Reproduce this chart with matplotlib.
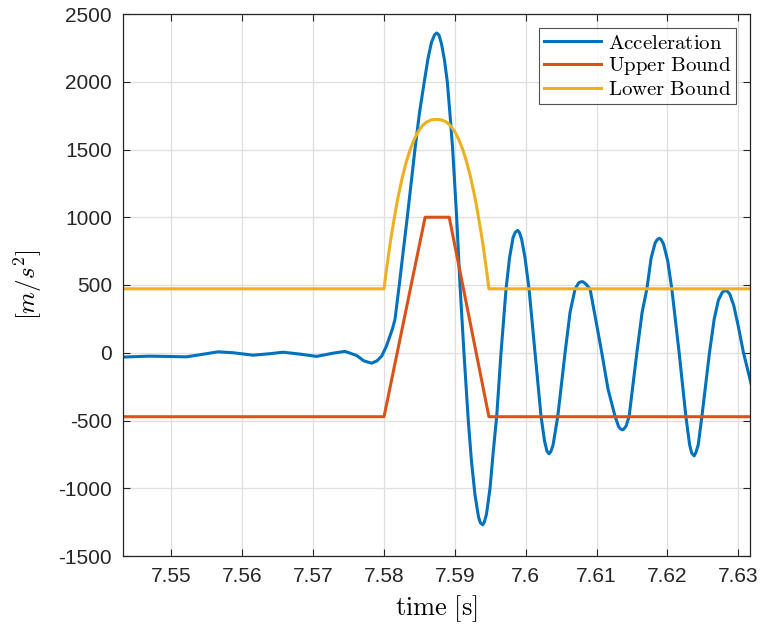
import numpy as np
import matplotlib
matplotlib.use("Agg")
import matplotlib.pyplot as plt

plt.rcParams['mathtext.fontset'] = 'cm'
plt.rcParams['axes.unicode_minus'] = False

# Acceleration signal (time [s], value [m/s^2])
acc_t = [7.5430, 7.54694, 7.55212, 7.55400, 7.55658, 7.55870, 7.56153, 7.56388,
         7.56576, 7.56812, 7.57048, 7.57282, 7.57448, 7.57613, 7.57716, 7.57825,
         7.57900, 7.57966, 7.58027, 7.58083, 7.58118, 7.58154, 7.58215, 7.58271,
         7.58328, 7.58380, 7.58436, 7.58500, 7.58568, 7.58620, 7.58669, 7.58712,
         7.58743, 7.58775, 7.58811, 7.58853, 7.58893, 7.58931, 7.58969, 7.59025,
         7.59072, 7.59128, 7.59189, 7.59234, 7.59284, 7.59333, 7.59359, 7.59393,
         7.59415, 7.59446, 7.59496, 7.59538, 7.59590, 7.59651, 7.59722, 7.59771,
         7.59821, 7.59853, 7.59886, 7.59910, 7.59941, 7.59990, 7.60047, 7.60131,
         7.60216, 7.60265, 7.60298, 7.60329, 7.60355, 7.60386, 7.60452, 7.60555,
         7.60626, 7.60696, 7.60746, 7.60771, 7.60799, 7.60821, 7.60852, 7.60908,
         7.60993, 7.61073, 7.61162, 7.61261, 7.61311, 7.61336, 7.61364, 7.61386,
         7.61417, 7.61459, 7.61568, 7.61643, 7.61709, 7.61770, 7.61826, 7.61852,
         7.61887, 7.61915, 7.61946, 7.62003, 7.62062, 7.62165, 7.62260, 7.62313,
         7.62342, 7.62377, 7.62402, 7.62434, 7.62486, 7.62593, 7.62660, 7.62720,
         7.62773, 7.62798, 7.62825, 7.62847, 7.62878, 7.62935, 7.62998, 7.63073,
         7.63196]
acc_v = [-32, -25, -30, -15, 7, 0, -18, -7,
         4, -10, -27, -3, 10, -20, -60, -77,
         -60, -25, 40, 122, 175, 245, 500, 750,
         1000, 1240, 1500, 1770, 2000, 2170, 2290, 2345,
         2360, 2345, 2280, 2160, 2000, 1760, 1500, 1000,
         500, 0, -500, -800, -1050, -1210, -1255, -1270,
         -1250, -1190, -1000, -750, -470, 0, 470, 700,
         850, 890, 903, 888, 840, 700, 470, 0,
         -470, -650, -725, -746, -728, -680, -470, 0,
         300, 470, 515, 522, 525, 519, 505, 470,
         230, 0, -270, -470, -545, -562, -569, -562,
         -540, -470, 0, 300, 470, 700, 810, 833,
         845, 832, 800, 680, 470, 0, -470, -680,
         -740, -761, -735, -680, -470, 0, 250, 390,
         445, 455, 459, 452, 435, 350, 200, 0,
         -261]

# Upper bound (trapezoid)
up_t = [7.5430, 7.5800, 7.5858, 7.5892, 7.5948, 7.6320]
up_v = [-472, -472, 1000, 1000, -472, -472]

# Lower bound (arch)
lo_t = [7.5430, 7.58000, 7.58028, 7.58057, 7.58085, 7.58114, 7.58157, 7.58199,
        7.58256, 7.58313, 7.58370, 7.58427, 7.58484, 7.58541, 7.58598, 7.58655,
        7.58697, 7.58740, 7.58783, 7.58825, 7.58882, 7.58939, 7.58996, 7.59053,
        7.59110, 7.59167, 7.59224, 7.59281, 7.59323, 7.59366, 7.59395, 7.59423,
        7.59452, 7.59480, 7.6320]
lo_v = [472, 472, 589, 699, 802, 899, 1032, 1151,
        1290, 1406, 1501, 1576, 1634, 1675, 1702, 1716,
        1721, 1722, 1721, 1716, 1702, 1675, 1634, 1576,
        1501, 1406, 1290, 1151, 1032, 899, 802, 699,
        589, 472, 472]

xticks = [7.55, 7.56, 7.57, 7.58, 7.59, 7.60, 7.61, 7.62, 7.63]
xticklabels = ['7.55', '7.56', '7.57', '7.58', '7.59', '7.6', '7.61', '7.62', '7.63']
yticks = [-1500, -1000, -500, 0, 500, 1000, 1500, 2000, 2500]

fig = plt.figure(figsize=(7.6, 6.3), dpi=100)
ax = fig.add_axes([123 / 760, 74 / 630, 627 / 760, 542 / 630])

ax.plot(acc_t, acc_v, color='#0072BD', lw=2.2, label=r'$\mathrm{Acceleration}$')
ax.plot(up_t, up_v, color='#D95319', lw=2.2, label=r'$\mathrm{Upper\ Bound}$')
ax.plot(lo_t, lo_v, color='#EDB120', lw=2.2, label=r'$\mathrm{Lower\ Bound}$')

ax.set_xlim(7.54316, 7.63165)
ax.set_ylim(-1500, 2500)
ax.set_xticks(xticks)
ax.set_xticklabels(xticklabels)
ax.set_yticks(yticks)
ax.set_yticklabels([str(v) for v in yticks])

for lab in ax.get_xticklabels() + ax.get_yticklabels():
    lab.set_fontfamily('Liberation Sans')
    lab.set_fontsize(15)
    lab.set_color('#262626')

ax.tick_params(direction='in', length=5, width=0.8, color='#262626',
               top=True, right=True, pad=8)
ax.grid(True, color='#dfdfdf', lw=0.9)
ax.set_axisbelow(True)
for s in ax.spines.values():
    s.set_color('#262626')
    s.set_linewidth(0.9)

ax.set_xlabel(r'$\mathrm{time\ [s]}$', fontsize=19, labelpad=5)
ax.set_ylabel(r'$[m/s^2]$', fontsize=18, labelpad=10)

leg = ax.legend(loc='upper right', fontsize=15, frameon=True, fancybox=False,
                edgecolor='#262626', handlelength=2.75, borderpad=0.25,
                labelspacing=0.1, handletextpad=0.3, borderaxespad=0.65)
leg.get_frame().set_linewidth(0.8)

fig.savefig('out.png', dpi=100)
